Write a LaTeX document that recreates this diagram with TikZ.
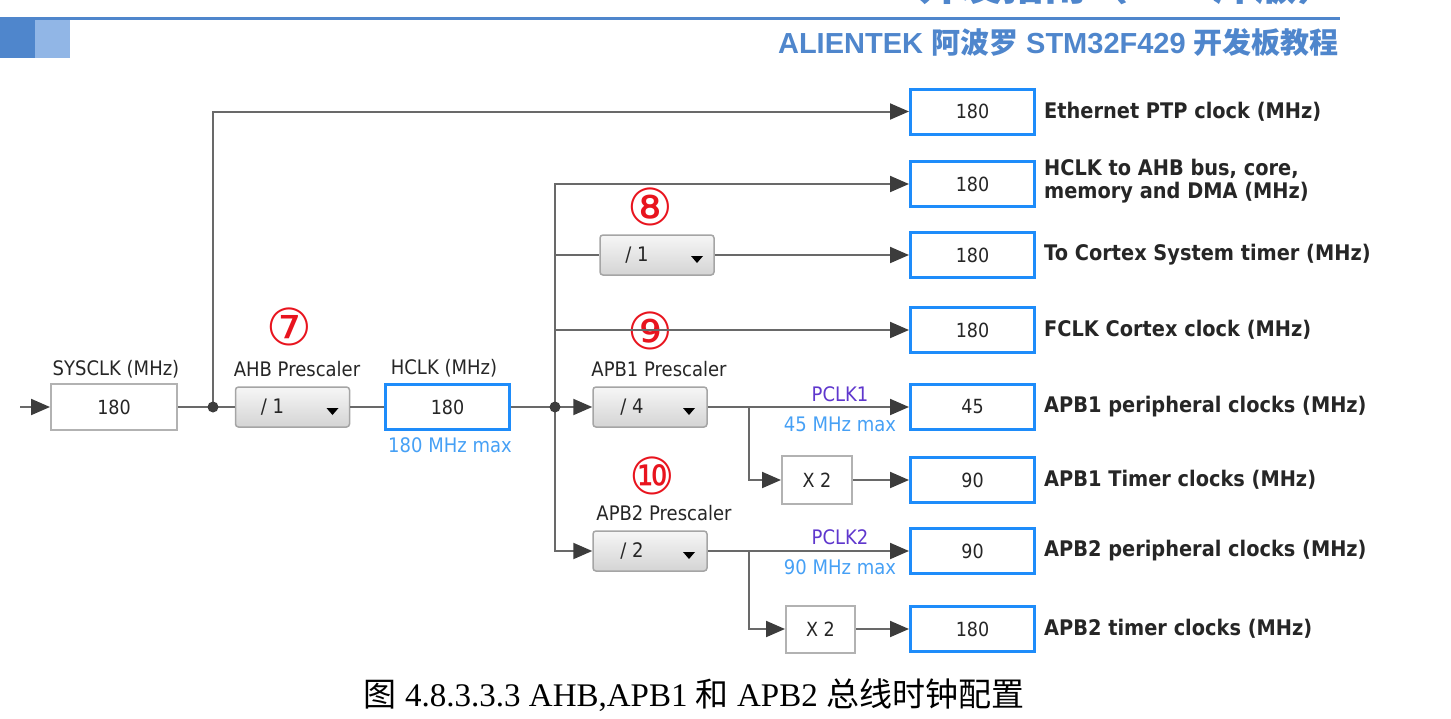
\documentclass[tikz,border=0pt]{standalone}
\usepackage{fontspec}
\setmainfont{Liberation Serif}
\newfontfamily\cjk{Noto Sans CJK SC}
\newfontfamily\hdr{Liberation Sans}
\newfontfamily\dg{DejaVu Sans}[FakeStretch=0.9]
\newfontfamily\circfont{DejaVu Sans}
\usetikzlibrary{arrows.meta}
\definecolor{hblue}{RGB}{79,134,204}
\definecolor{hblueL}{RGB}{145,182,230}
\definecolor{bblue}{RGB}{30,140,250}
\definecolor{lblue}{RGB}{70,160,245}
\definecolor{pclk}{RGB}{95,55,205}
\definecolor{wirec}{RGB}{105,105,105}
\definecolor{arrowc}{RGB}{60,60,60}
\definecolor{cred}{RGB}{232,20,30}
\definecolor{gbord}{RGB}{178,178,178}
\definecolor{pbord}{RGB}{165,165,165}
\definecolor{ptop}{RGB}{246,246,246}
\definecolor{pbot}{RGB}{212,212,212}
\definecolor{txt}{RGB}{38,38,38}
\begin{document}
\begin{tikzpicture}[x=1pt,y=-1pt,
  wire/.style={draw=wirec, line width=2},
  arr/.style={wire, -{Triangle[length=19pt,width=16pt,color=arrowc]}},
  valbox/.style={draw=gbord, line width=2, fill=white, inner sep=0, text=txt,
    font=\dg\fontsize{19.5}{19.5}\selectfont},
  outbox/.style={draw=bblue, line width=3, fill=white, minimum width=124, minimum height=45,
    inner sep=0, text=txt, font=\dg\fontsize{19.5}{19.5}\selectfont},
  presc/.style={draw=pbord, line width=1.5, rounded corners=3, top color=ptop, bottom color=pbot,
    minimum width=114, minimum height=40, inner sep=0},
  small/.style={font=\dg\fontsize{20}{20}\selectfont, text=txt, inner sep=0},
  lbl/.style={font=\dg\bfseries\fontsize{21.5}{23}\selectfont, text=txt, anchor=west,
    inner sep=0, align=left},
  circnum/.style={font=\circfont\fontsize{51}{51}\selectfont, text=cred, inner sep=0},
  tri/.style={fill=black},
]
\useasboundingbox (0,0) rectangle (1451,718);

% header
\node[anchor=base west, text=hblue, inner sep=0, font=\cjk\bfseries\fontsize{42}{42}\selectfont] (toptitle) at (918,0) {开发指南（HAL库版）};
\draw[hblue, line width=3] (0,18.5) -- (1340,18.5);
\fill[hblue] (0,20) rectangle (35,58);
\fill[hblueL] (35,20) rectangle (70,58);
\node[anchor=base east, text=hblue, inner sep=0, font=\fontsize{29}{29}\selectfont] (subtitle) at (1339,53)
  {{\hdr\bfseries ALIENTEK }{\cjk\bfseries 阿波罗}{\hdr\bfseries{} STM32F429 }{\cjk\bfseries 开发板教程}};

% left chain
\coordinate (in) at (20,407);
\node[valbox, minimum width=126, minimum height=46] (sys) at (114,407) {180};
\node[small] (syslbl) at (116,369) {SYSCLK (MHz)};
\coordinate (j1) at (213,407);
\node[presc] (ahb) at (292.5,407) {};
\node[small] (ahbtxt) at ([xshift=-20pt]ahb.center) {/ 1};
\fill[tri] ([xshift=34pt,yshift=-1pt]ahb.center) -- ++(12,0) -- ++(-6,7) -- cycle;
\node[small] (ahblbl) at (297,369) {AHB Prescaler};
\node[circnum] (c7) at (289,327) {⑦};
\node[outbox] (hclk) at (447.5,407) {180};
\node[small] (hclklbl) at (444,368) {HCLK (MHz)};
\node[small, text=lblue] (hclkmax) at (450,445) {180 MHz max};
\coordinate (j2) at (555,407);

% middle prescalers
\node[presc] (sys8) at (657,255) {};
\node[small] (sys8txt) at ([xshift=-20pt]sys8.center) {/ 1};
\fill[tri] ([xshift=34pt,yshift=-1pt]sys8.center) -- ++(12,0) -- ++(-6,7) -- cycle;
\node[circnum] (c8) at (650,207) {⑧};

\node[presc] (apb1) at (650,407) {};
\node[small] (apb1txt) at ([xshift=-18pt]apb1.center) {/ 4};
\fill[tri] ([xshift=33pt,yshift=-1pt]apb1.center) -- ++(12,0) -- ++(-6,7) -- cycle;
\node[small] (apb1lbl) at (659,369) {APB1 Prescaler};
\node[circnum] (c9) at (650,331) {⑨};

\node[presc] (apb2) at (650,551) {};
\node[small] (apb2txt) at ([xshift=-18pt]apb2.center) {/ 2};
\fill[tri] ([xshift=33pt,yshift=-1pt]apb2.center) -- ++(12,0) -- ++(-6,7) -- cycle;
\node[small] (apb2lbl) at (664,513) {APB2 Prescaler};
\node[circnum] (c10) at (652,476) {⑩};

\coordinate (b1) at (749,407);
\coordinate (b2) at (749,551);
\node[valbox, minimum width=70, minimum height=48] (x2a) at (817,480) {X 2};
\node[valbox, minimum width=69, minimum height=47] (x2b) at (820.5,629) {X 2};

\node[small, text=pclk] (pc1) at (840,394) {PCLK1};
\node[small, text=lblue] (pc1max) at (840,424) {45 MHz max};
\node[small, text=pclk] (pc2) at (840,537) {PCLK2};
\node[small, text=lblue] (pc2max) at (840,567) {90 MHz max};

% output boxes
\node[outbox] (eth) at (972.5,111.5) {180};
\node[outbox] (hahb) at (972.5,184) {180};
\node[outbox] (ctx) at (972.5,255) {180};
\node[outbox] (fclk) at (972.5,330) {180};
\node[outbox] (p1) at (972.5,407) {45};
\node[outbox] (t1) at (972.5,480) {90};
\node[outbox] (p2) at (972.5,551) {90};
\node[outbox] (t2) at (972.5,629) {180};

\node[lbl] (ethl) at ([xshift=8pt]eth.east) {Ethernet PTP clock (MHz)};
\node[lbl] (hahbl) at ([xshift=8pt,yshift=3pt]hahb.east) {HCLK to AHB bus, core,\\memory and DMA (MHz)};
\node[lbl] (ctxl) at ([xshift=8pt]ctx.east) {To Cortex System timer (MHz)};
\node[lbl] (fclkl) at ([xshift=8pt]fclk.east) {FCLK Cortex clock (MHz)};
\node[lbl] (p1l) at ([xshift=8pt]p1.east) {APB1 peripheral clocks (MHz)};
\node[lbl] (t1l) at ([xshift=8pt]t1.east) {APB1 Timer clocks (MHz)};
\node[lbl] (p2l) at ([xshift=8pt]p2.east) {APB2 peripheral clocks (MHz)};
\node[lbl] (t2l) at ([xshift=8pt]t2.east) {APB2 timer clocks (MHz)};

% connectors
\draw[arr] (in) -- (sys.west);
\draw[wire] (sys.east) -- (j1) -- (ahb.west);
\draw[arr] (j1) |- (eth.west);
\draw[wire] (ahb.east) -- (hclk.west);
\draw[wire] (hclk.east) -- (j2);
\draw[arr] (j2) |- (hahb.west);
\draw[wire] (j2) |- (sys8.west);
\draw[arr] (sys8.east) -- (ctx.west);
\draw[arr] (j2) |- (fclk.west);
\draw[arr] (j2) -- (apb1.west);
\draw[arr] (j2) |- (apb2.west);
\draw[arr] (apb1.east) -- (p1.west);
\draw[arr] (b1) |- (x2a.west);
\draw[arr] (x2a.east) -- (t1.west);
\draw[arr] (apb2.east) -- (p2.west);
\draw[arr] (b2) |- (x2b.west);
\draw[arr] (x2b.east) -- (t2.west);
\fill[arrowc] (j1) circle (5.5);
\fill[arrowc] (j2) circle (5.5);

% caption
\node[anchor=base, inner sep=0, text=black, font=\fontsize{33}{33}\selectfont] (cap) at (694,706)
  {{\cjk 图} 4.8.3.3.3 AHB,APB1 {\cjk 和} APB2 {\cjk 总线时钟配置}};
\end{tikzpicture}
\end{document}
